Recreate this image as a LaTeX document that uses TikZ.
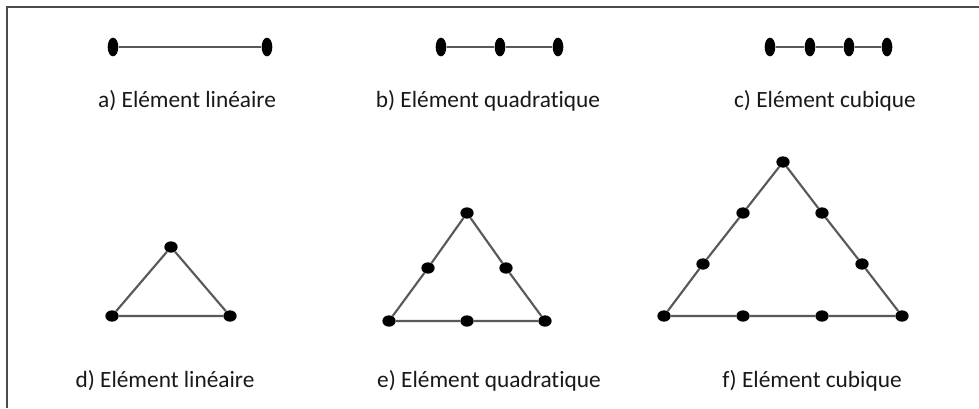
\documentclass[tikz,border=0pt]{standalone}
\usepackage{fontspec}
\setmainfont{Carlito}[Ligatures=NoCommon]
\usetikzlibrary{shapes.geometric}
\begin{document}
\begin{tikzpicture}[x=0.75pt,y=-0.75pt,
  vdot/.style={ellipse,fill=black,minimum width=8pt,minimum height=14pt,inner sep=0pt},
  tdot/.style={ellipse,fill=black,minimum width=10pt,minimum height=8.5pt,inner sep=0pt},
  edgeline/.style={draw=black!65,line width=1.6pt},
  lbl/.style={font=\fontsize{17.5}{20}\selectfont,text=black!90,inner sep=0pt}]
\useasboundingbox (0,0) rectangle (979,408);
\fill[white] (0,0) rectangle (979,408);
\draw[black!70,line width=1.2pt] (7,408) -- (7,7) -- (979,7);
% a)
\node[vdot] (a1) at (113,47) {};
\node[vdot] (a2) at (267,47) {};
\draw[edgeline] (a1) -- (a2);
% b)
\node[vdot] (b1) at (441,47) {};
\node[vdot] (b2) at (500,47) {};
\node[vdot] (b3) at (558,47) {};
\draw[edgeline] (b1) -- (b2) -- (b3);
% c)
\node[vdot] (c1) at (770,47) {};
\node[vdot] (c2) at (810,47) {};
\node[vdot] (c3) at (849,47) {};
\node[vdot] (c4) at (887,47) {};
\draw[edgeline] (c1) -- (c2) -- (c3) -- (c4);
% d)
\node[tdot] (d1) at (112,316) {};
\node[tdot] (d2) at (230,316) {};
\node[tdot] (d3) at (171,247) {};
\draw[edgeline] (d1) -- (d2) -- (d3) -- (d1);
% e)
\node[tdot] (e1) at (389,321) {};
\node[tdot] (e2) at (467,321) {};
\node[tdot] (e3) at (545,321) {};
\node[tdot] (e4) at (506,268) {};
\node[tdot] (e5) at (467,213) {};
\node[tdot] (e6) at (428,268) {};
\draw[edgeline] (e1) -- (e2) -- (e3) -- (e4) -- (e5) -- (e6) -- (e1);
% f)
\node[tdot] (f1) at (664,316) {};
\node[tdot] (f2) at (743,316) {};
\node[tdot] (f3) at (822,316) {};
\node[tdot] (f4) at (902,316) {};
\node[tdot] (f5) at (862,264) {};
\node[tdot] (f6) at (822,213) {};
\node[tdot] (f7) at (783,162) {};
\node[tdot] (f8) at (743,213) {};
\node[tdot] (f9) at (703,264) {};
\draw[edgeline] (f1) -- (f2) -- (f3) -- (f4) -- (f5) -- (f6) -- (f7) -- (f8) -- (f9) -- (f1);
% labels
\node[lbl] (la) at (187,101) {a) Elément linéaire};
\node[lbl] (lb) at (488,101) {b) Elément quadratique};
\node[lbl] (lc) at (825,101) {c) Elément cubique};
\node[lbl] (ld) at (165,381) {d) Elément linéaire};
\node[lbl] (le) at (489,381) {e) Elément quadratique};
\node[lbl] (lf) at (812,381) {f) Elément cubique};
\end{tikzpicture}
\end{document}
